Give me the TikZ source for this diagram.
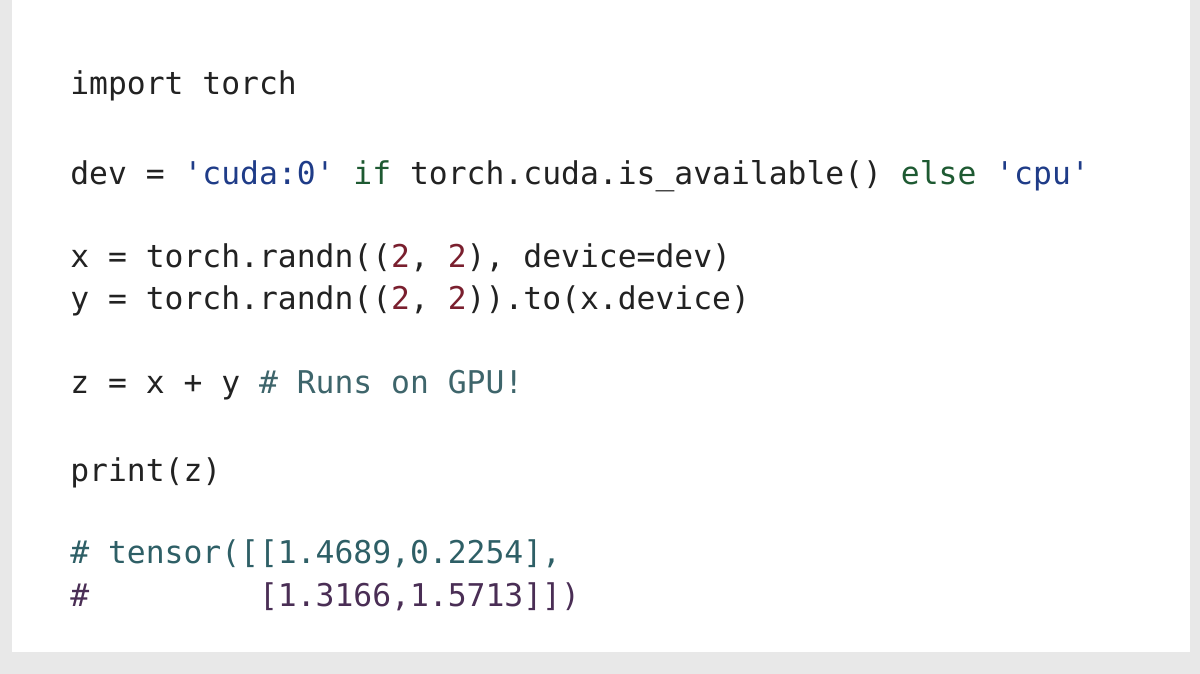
\documentclass[tikz,border=0pt]{standalone}
\usepackage{fontspec}
\setmonofont{DejaVu Sans Mono}
\usepackage{xcolor}
\definecolor{kw}{HTML}{1E5A32}
\definecolor{str}{HTML}{1F3C88}
\definecolor{num}{HTML}{7A1F2E}
\definecolor{cmt}{HTML}{2E5F66}
\definecolor{cmtb}{HTML}{4A2E55}
\definecolor{txt}{HTML}{222222}
\begin{document}
\begin{tikzpicture}[x=0.025cm,y=-0.025cm,
  code/.style={anchor=base west,inner sep=0pt,text=txt,
    font=\ttfamily\fontsize{22.3}{26}\selectfont}]

    \fill[gray!18] (0,0) rectangle (1200,674);
    \fill[white] (12,0) rectangle (1190,652);

    \node[code] (imp) at (70, 95) {import torch};
    \node[code] (dev) at (70, 185) {dev = \textcolor{str}{'cuda:0'} \textcolor{kw}{if} torch.cuda.is\_available() \textcolor{kw}{else} \textcolor{str}{'cpu'}};
    \node[code] (xl) at (70, 268) {x = torch.randn((\textcolor{num}{2}, \textcolor{num}{2}), device=dev)};
    \node[code] (yl) at (70, 310) {y = torch.randn((\textcolor{num}{2}, \textcolor{num}{2})).to(x.device)};
    \node[code] (zl) at (70, 393) {z = x + y \textcolor{cmt!80!gray}{\# Runs on GPU!}};
    \node[code] (prn) at (70, 481) {print(z)};
    \node[code,text=cmt] (tsa) at (70, 563) {\# tensor([[1.4689,0.2254],};
    \node[code,text=cmtb] (tsb) at (70, 606) {\#{}\ \ \ \ \ \ \ \ \ [1.3166,1.5713]])};

\end{tikzpicture}
\end{document}
